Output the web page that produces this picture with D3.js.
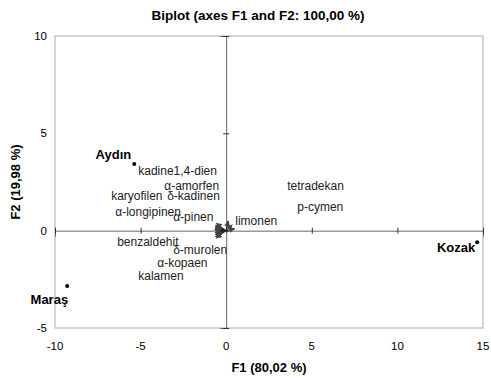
<!DOCTYPE html>
<html>
<head>
<meta charset="utf-8">
<script src="https://cdn.jsdelivr.net/npm/d3@7"></script>
<style>
  body { margin: 0; background: #fff; }
  svg { font-family: "Liberation Sans", Arial, sans-serif; }
</style>
</head>
<body>
<svg id="chart" width="491" height="378"></svg>
<script>
// observations (F1, F2 scores)
var obsNames = ["Aydın", "Maraş", "Kozak"];
var obsF1 = [-5.37, -9.29, 14.66];
var obsF2 = [3.43, -2.84, -0.59];

// variables: vector tips (loadings) and where the label was put
var varNames = ["kadine1,4-dien", "α-amorfen", "karyofilen", "δ-kadinen", "α-longipinen", "α-pinen",
  "limonen", "benzaldehit", "δ-murolen", "α-kopaen", "kalamen", "tetradekan", "p-cymen"];
var varF1 = [-0.58, -0.62, -0.64, -0.65, -0.66, -0.66, 0.5, -0.66, -0.64, -0.62, -0.58, 0.12, 0.35];
var varF2 = [0.38, 0.28, 0.2, 0.14, 0.08, 0.03, 0.1, -0.1, -0.2, -0.3, -0.38, 0.5, 0.3];
var labelF1 = [-5.14, -3.62, -6.72, -3.45, -6.48, -3.10, 0.53, -6.37, -3.10, -4.03, -5.14, 3.56, 4.15];
var labelF2 = [3.07, 2.30, 1.78, 1.78, 0.96, 0.70, 0.50, -0.58, -0.99, -1.66, -2.33, 2.30, 1.22];

var xTicks = [-10, -5, 0, 5, 10, 15];
var yTicks = [-5, 0, 5, 10];

var svg = d3.select("#chart");
var pLeft = 55, pRight = 483, pTop = 36, pBottom = 328;

var x = d3.scaleLinear().domain([-10, 15]).range([pLeft, pRight]);
var y = d3.scaleLinear().domain([-5, 10]).range([pBottom, pTop]);

// frame
svg.append("rect")
  .attr("x", pLeft).attr("y", pTop)
  .attr("width", pRight - pLeft).attr("height", pBottom - pTop)
  .attr("fill", "none").attr("stroke", "#aaa").attr("stroke-width", 1);

// zero axes with their ticks
var xAxis = d3.axisBottom(x).tickValues(xTicks).tickSize(6).tickFormat("");
var gx = svg.append("g").attr("transform", "translate(0," + y(0) + ")").call(xAxis);
gx.selectAll(".tick line").attr("y1", -3).attr("y2", 3);
var yAxis = d3.axisLeft(y).tickValues(yTicks).tickSize(6).tickFormat("");
var gy = svg.append("g").attr("transform", "translate(" + x(0) + ",0)").call(yAxis);
gy.selectAll(".tick line").attr("x1", -3).attr("x2", 3);
svg.selectAll(".domain").attr("stroke", "#666");
svg.selectAll(".tick line").attr("stroke", "#333");

// tick labels on the frame
svg.append("g").selectAll("text").data(xTicks).join("text")
  .attr("x", function(d){ return x(d); })
  .attr("y", pBottom + 22)
  .attr("text-anchor", "middle")
  .attr("font-size", 11.5)
  .text(function(d){ return d; });

svg.append("g").selectAll("text").data(yTicks).join("text")
  .attr("x", pLeft - 8)
  .attr("y", function(d){ return y(d); })
  .attr("dy", "0.35em")
  .attr("text-anchor", "end")
  .attr("font-size", 11.5)
  .text(function(d){ return d; });

// titles
svg.append("text").attr("x", 258).attr("y", 20)
  .attr("text-anchor", "middle").attr("font-size", 13.5).attr("font-weight", "bold")
  .text("Biplot (axes F1 and F2: 100,00 %)");
svg.append("text").attr("x", (pLeft + pRight) / 2).attr("y", 372)
  .attr("text-anchor", "middle").attr("font-size", 13).attr("font-weight", "bold")
  .text("F1 (80,02 %)");
svg.append("text")
  .attr("transform", "translate(20," + ((pTop + pBottom) / 2) + ") rotate(-90)")
  .attr("text-anchor", "middle").attr("font-size", 13).attr("font-weight", "bold")
  .text("F2 (19,98 %)");

// arrowhead
svg.append("defs").append("marker")
  .attr("id", "arr").attr("viewBox", "0 0 10 10")
  .attr("refX", 9).attr("refY", 5)
  .attr("markerWidth", 6).attr("markerHeight", 6)
  .attr("orient", "auto")
  .append("path").attr("d", "M0,0L10,5L0,10Z").attr("fill", "#444");

// variable vectors
var vars = varNames.map(function(n, i){
  return {name: n, f1: varF1[i], f2: varF2[i], lx: labelF1[i], ly: labelF2[i]};
});
svg.append("g").selectAll("line").data(vars).join("line")
  .attr("x1", x(0)).attr("y1", y(0))
  .attr("x2", function(d){ return x(d.f1); })
  .attr("y2", function(d){ return y(d.f2); })
  .attr("stroke", "#222").attr("stroke-width", 1)
  .attr("marker-end", "url(#arr)");

svg.append("g").selectAll("text").data(vars).join("text")
  .attr("x", function(d){ return x(d.lx); })
  .attr("y", function(d){ return y(d.ly); })
  .attr("dy", "0.35em")
  .attr("font-size", 12)
  .attr("fill", "#222")
  .text(function(d){ return d.name; });

// observations
var obs = obsNames.map(function(n, i){ return {name: n, f1: obsF1[i], f2: obsF2[i]}; });
svg.append("g").selectAll("circle").data(obs).join("circle")
  .attr("cx", function(d){ return x(d.f1); })
  .attr("cy", function(d){ return y(d.f2); })
  .attr("r", 2).attr("fill", "#000");

var obsLabel = {
  "Aydın": {dx: -3, dy: -9, anchor: "end"},
  "Maraş": {dx: 1, dy: 13, anchor: "end"},
  "Kozak": {dx: -2, dy: 5, anchor: "end"}
};
svg.append("g").selectAll("text").data(obs).join("text")
  .attr("x", function(d){ return x(d.f1) + obsLabel[d.name].dx; })
  .attr("y", function(d){ return y(d.f2) + obsLabel[d.name].dy; })
  .attr("dy", "0.35em")
  .attr("text-anchor", function(d){ return obsLabel[d.name].anchor; })
  .attr("font-size", 13).attr("font-weight", "bold")
  .text(function(d){ return d.name; });
</script>
</body>
</html>
